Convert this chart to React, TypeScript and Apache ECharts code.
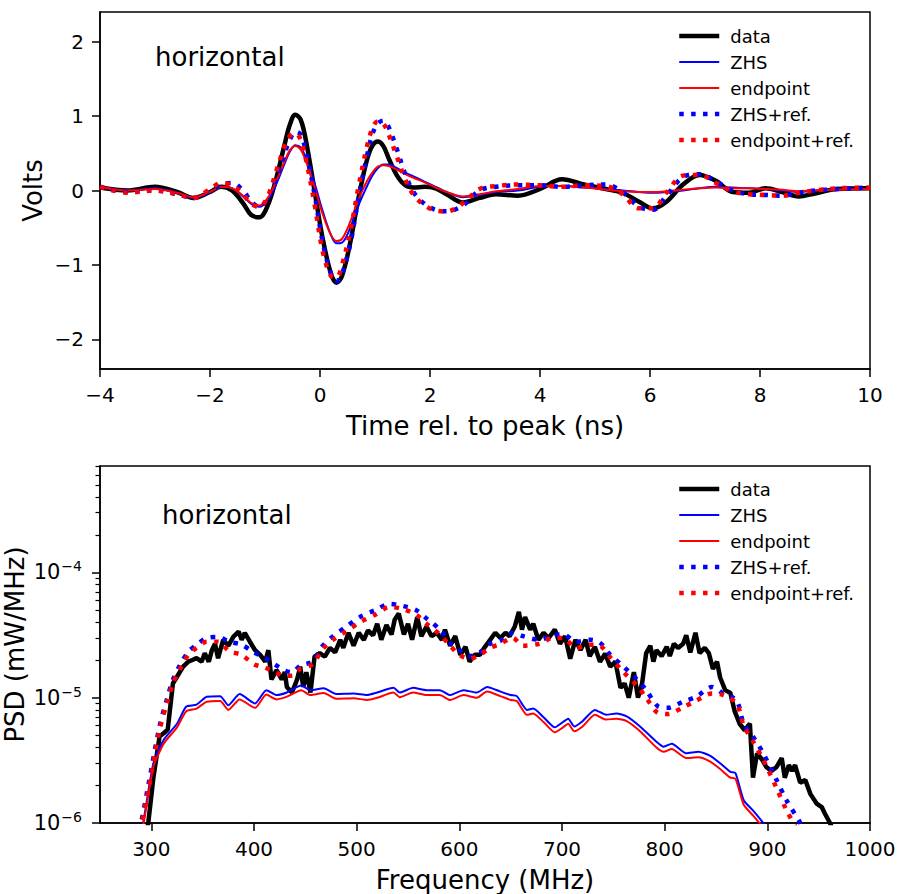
import React, { useEffect, useRef } from "react";
import * as echarts from "echarts";

const FONT = "DejaVu Sans";
const BLUE = "#0000ff";
const RED = "#ff0000";

// ---------- top panel: time domain (ns, volts) ----------
const timeNs = [
  -4, -3.5, -3, -2.6, -2.3, -2.0, -1.8, -1.6, -1.4, -1.25,
  -1.1, -0.95, -0.8, -0.65, -0.55, -0.45, -0.35, -0.25, -0.1, 0.05,
  0.2, 0.3, 0.4, 0.55, 0.7, 0.85, 0.95, 1.05, 1.15, 1.25,
  1.4, 1.55, 1.7, 1.9, 2.1, 2.3, 2.6, 2.9, 3.2, 3.6,
  4.0, 4.4, 4.8, 5.2, 5.5, 5.8, 6.05, 6.3, 6.6, 6.9,
  7.2, 7.5, 7.8, 8.1, 8.4, 8.7, 9.0, 9.4, 10,
];
const dataVolts = [
  0.04, 0.0, 0.05, -0.02, -0.1, -0.02, 0.05, 0.0, -0.17, -0.33,
  -0.36, -0.2, 0.15, 0.6, 0.88, 1.02, 0.95, 0.65, 0.0, -0.65,
  -1.12, -1.24, -1.15, -0.7, -0.1, 0.4, 0.6, 0.66, 0.6, 0.43,
  0.2, 0.07, 0.04, 0.05, 0.03, -0.05, -0.16, -0.1, -0.05, -0.07,
  0.02, 0.15, 0.08, 0.02, -0.03, -0.15, -0.24, -0.15, 0.08, 0.21,
  0.13, -0.02, -0.03, 0.03, -0.02, -0.08, -0.04, 0.02, 0.03,
];
const zhsVolts = [
  0.05, 0.0, 0.03, -0.03, -0.1, -0.02, 0.05, 0.03, -0.08, -0.18,
  -0.22, -0.13, 0.08, 0.35, 0.52, 0.61, 0.58, 0.42, 0.1, -0.28,
  -0.6, -0.71, -0.7, -0.5, -0.2, 0.05, 0.2, 0.3, 0.35, 0.35,
  0.3, 0.24, 0.19, 0.12, 0.05, -0.02, -0.09, -0.06, -0.02, 0.0,
  0.05, 0.06, 0.04, 0.02, 0.0, -0.02, -0.03, -0.02, 0.0, 0.03,
  0.05, 0.04, 0.03, 0.02, 0.0, -0.02, 0.0, 0.02, 0.02,
];
const endpointVolts = [
  0.05, 0.0, 0.02, -0.03, -0.09, -0.02, 0.05, 0.03, -0.07, -0.17,
  -0.2, -0.1, 0.12, 0.38, 0.54, 0.6, 0.55, 0.38, 0.05, -0.32,
  -0.6, -0.68, -0.65, -0.42, -0.12, 0.12, 0.24, 0.32, 0.34, 0.33,
  0.28, 0.22, 0.17, 0.11, 0.04, -0.02, -0.08, -0.05, -0.01, 0.02,
  0.06, 0.06, 0.04, 0.01, -0.01, -0.02, -0.02, -0.01, 0.01, 0.03,
  0.04, 0.03, 0.03, 0.02, 0.01, -0.01, 0.0, 0.01, 0.02,
];
const zhsRefVolts = [
  0.05, -0.02, 0.0, -0.05, -0.1, 0.0, 0.08, 0.1, 0.0, -0.15,
  -0.22, -0.1, 0.15, 0.48, 0.68, 0.79, 0.75, 0.5, -0.05, -0.7,
  -1.12, -1.22, -1.12, -0.72, -0.1, 0.45, 0.75, 0.9, 0.94, 0.85,
  0.55, 0.22, -0.02, -0.18, -0.26, -0.28, -0.2, 0.0, 0.05, 0.07,
  0.07, 0.05, 0.07, 0.08, -0.02, -0.22, -0.26, -0.07, 0.18, 0.22,
  0.12, 0.0, -0.05, -0.06, -0.07, -0.03, 0.0, 0.02, 0.04,
];
const endpointRefVolts = [
  0.05, -0.03, 0.0, -0.05, -0.1, 0.02, 0.1, 0.07, -0.05, -0.18,
  -0.22, -0.08, 0.25, 0.58, 0.73, 0.77, 0.68, 0.4, -0.18, -0.82,
  -1.15, -1.17, -1.0, -0.55, 0.05, 0.58, 0.83, 0.93, 0.9, 0.75,
  0.45, 0.15, -0.06, -0.2, -0.27, -0.28, -0.17, 0.02, 0.06, 0.08,
  0.07, 0.05, 0.07, 0.06, -0.05, -0.24, -0.24, -0.03, 0.2, 0.21,
  0.1, -0.01, -0.05, -0.06, -0.07, -0.03, 0.0, 0.03, 0.04,
];

// ---------- bottom panel: PSD (MHz, mW/MHz) ----------
const dataPsd: [number, number][] = [
  [292, 6e-7], [297, 1.0e-6], [302, 2.3e-6], [308, 4.9e-6], [312, 5.2e-6],
  [316, 5.6e-6], [321, 1.3e-5], [325, 1.47e-5], [331, 1.77e-5], [336, 1.94e-5],
  [340, 2.0e-5], [344, 2.07e-5], [349, 1.94e-5], [352, 2.27e-5], [356, 1.94e-5],
  [359, 2.4e-5], [362, 2.7e-5], [365, 2.07e-5], [370, 2.9e-5], [375, 2.6e-5],
  [380, 3.08e-5], [385, 3.37e-5], [388, 2.9e-5], [391, 3.3e-5], [396, 2.8e-5],
  [401, 2.4e-5], [406, 2.2e-5], [411, 1.94e-5], [414, 2.4e-5], [417, 1.4e-5],
  [422, 1.66e-5], [427, 1.4e-5], [430, 1.6e-5], [432, 1.22e-5], [437, 1.1e-5],
  [442, 1.4e-5], [445, 1.77e-5], [448, 1.22e-5], [451, 1.6e-5], [455, 1.1e-5],
  [459, 2.13e-5], [464, 2.27e-5], [469, 2.13e-5], [474, 2.5e-5], [479, 2.3e-5],
  [484, 2.9e-5], [487, 2.5e-5], [492, 3.3e-5], [497, 2.6e-5], [502, 3.3e-5],
  [507, 2.9e-5], [511, 3.45e-5], [516, 3.15e-5], [520, 3.9e-5], [524, 2.9e-5],
  [529, 3.8e-5], [534, 3.2e-5], [537, 4.2e-5], [541, 4.7e-5], [546, 3.2e-5],
  [550, 3.9e-5], [554, 2.9e-5], [559, 4.4e-5], [563, 3.1e-5], [568, 3.7e-5],
  [573, 3.1e-5], [578, 3.3e-5], [583, 2.9e-5], [586, 3.5e-5], [591, 2.6e-5],
  [596, 3.1e-5], [601, 2.2e-5], [606, 2.55e-5], [610, 1.94e-5], [615, 2.2e-5],
  [620, 2.2e-5], [625, 2.55e-5], [630, 2.9e-5], [635, 3.3e-5], [640, 3.0e-5],
  [645, 3.3e-5], [649, 3.1e-5], [654, 3.7e-5], [658, 4.85e-5], [661, 3.5e-5],
  [664, 4.4e-5], [669, 3.5e-5], [672, 3.9e-5], [677, 2.9e-5], [682, 3.3e-5],
  [687, 3.0e-5], [693, 3.5e-5], [698, 2.7e-5], [703, 3.1e-5], [708, 2.05e-5],
  [713, 2.9e-5], [718, 2.4e-5], [723, 2.9e-5], [727, 2.15e-5], [732, 2.55e-5],
  [737, 1.94e-5], [742, 2.25e-5], [747, 1.77e-5], [752, 1.94e-5], [757, 1.2e-5],
  [761, 1.3e-5], [765, 1.0e-5], [770, 1.6e-5], [774, 1.0e-5], [778, 1.3e-5],
  [782, 2.27e-5], [786, 2.6e-5], [789, 1.94e-5], [792, 2.4e-5], [797, 2.15e-5],
  [802, 2.55e-5], [805, 2.15e-5], [809, 2.7e-5], [813, 2.5e-5], [818, 2.7e-5],
  [821, 3.15e-5], [825, 2.3e-5], [830, 3.3e-5], [834, 2.27e-5], [839, 2.5e-5],
  [843, 2.27e-5], [847, 1.7e-5], [851, 1.94e-5], [854, 1.45e-5], [859, 1.15e-5],
  [864, 1.09e-5], [868, 7.9e-6], [873, 6.2e-6], [878, 5.5e-6], [883, 6.2e-6],
  [886, 2.3e-6], [890, 3.6e-6], [895, 3.2e-6], [899, 2.8e-6], [904, 2.6e-6],
  [909, 2.8e-6], [914, 3.3e-6], [917, 2.3e-6], [921, 2.9e-6], [924, 2.6e-6],
  [927, 2.9e-6], [932, 2.1e-6], [937, 2.2e-6], [942, 1.7e-6], [948, 1.43e-6],
  [953, 1.34e-6], [956, 1.19e-6], [961, 1.0e-6], [966, 8e-7],
];

const simFreq = [
  285, 292, 302, 312, 325, 334, 344, 354, 367, 375,
  386, 401, 412, 422, 432, 446, 455, 468, 480, 497,
  510, 520, 536, 542, 555, 568, 581, 591, 604, 617,
  627, 640, 650, 656, 666, 672, 682, 693, 701, 706,
  712, 720, 732, 743, 753, 763, 776, 792, 799, 807,
  821, 833, 844, 854, 864, 869, 877, 886, 896, 905,
];
const zhsPsd = [
  6e-7, 1.0e-6, 3.0e-6, 4.6e-6, 6.2e-6, 8.5e-6, 8.8e-6, 1.02e-5, 1.03e-5, 8.7e-6,
  1.07e-5, 9.0e-6, 1.15e-5, 1.05e-5, 1.1e-5, 1.25e-5, 1.15e-5, 1.19e-5, 1.07e-5, 1.08e-5,
  1.05e-5, 1.1e-5, 1.2e-5, 1.1e-5, 1.2e-5, 1.15e-5, 1.15e-5, 1.05e-5, 1.15e-5, 1.1e-5,
  1.22e-5, 1.12e-5, 1.05e-5, 1.03e-5, 8.0e-6, 8.2e-6, 7.0e-6, 5.8e-6, 6.4e-6, 6.8e-6,
  5.9e-6, 6.5e-6, 8.0e-6, 7.3e-6, 7.5e-6, 7.1e-6, 5.9e-6, 4.45e-6, 4.06e-6, 4.3e-6,
  3.6e-6, 3.7e-6, 3.45e-6, 3.0e-6, 2.56e-6, 2.5e-6, 1.52e-6, 1.26e-6, 1.0e-6, 8e-7,
];
const endpointPsd = [
  6e-7, 9.5e-7, 2.8e-6, 4.3e-6, 5.8e-6, 7.8e-6, 8.2e-6, 9.3e-6, 9.4e-6, 8.0e-6,
  9.7e-6, 8.3e-6, 1.06e-5, 9.7e-6, 1.02e-5, 1.15e-5, 1.05e-5, 1.09e-5, 9.8e-6, 9.9e-6,
  9.6e-6, 1.0e-5, 1.1e-5, 1.01e-5, 1.1e-5, 1.05e-5, 1.05e-5, 9.6e-6, 1.05e-5, 1.0e-5,
  1.12e-5, 1.03e-5, 9.6e-6, 9.4e-6, 7.3e-6, 7.5e-6, 6.4e-6, 5.3e-6, 5.8e-6, 6.2e-6,
  5.4e-6, 5.9e-6, 7.3e-6, 6.7e-6, 6.8e-6, 6.5e-6, 5.4e-6, 4.0e-6, 3.7e-6, 3.9e-6,
  3.3e-6, 3.35e-6, 3.1e-6, 2.7e-6, 2.3e-6, 2.25e-6, 1.4e-6, 1.15e-6, 9.2e-7, 7.3e-7,
];

const refFreq = [
  285, 290, 298, 308, 315, 321, 328, 336, 344, 354,
  365, 376, 388, 400, 410, 420, 430, 437, 445, 457,
  467, 477, 490, 503, 518, 532, 545, 558, 568, 581,
  591, 600, 610, 620, 630, 640, 652, 662, 678, 691,
  701, 714, 727, 737, 747, 760, 773, 782, 793, 803,
  818, 831, 846, 857, 870, 877, 886, 896, 909, 919,
  932, 940,
];
const zhsRefPsd = [
  7e-7, 1.0e-6, 2.2e-6, 5.9e-6, 9.6e-6, 1.39e-5, 1.83e-5, 2.33e-5, 2.64e-5, 3.0e-5,
  3.05e-5, 2.8e-5, 2.65e-5, 2.3e-5, 2.1e-5, 1.85e-5, 1.65e-5, 1.6e-5, 1.8e-5, 1.95e-5,
  2.6e-5, 3.1e-5, 3.7e-5, 4.4e-5, 5.0e-5, 5.6e-5, 5.4e-5, 5.0e-5, 4.3e-5, 3.5e-5,
  2.75e-5, 2.4e-5, 2.15e-5, 2.3e-5, 2.7e-5, 2.85e-5, 3.3e-5, 3.1e-5, 2.9e-5, 3.15e-5,
  3.2e-5, 2.8e-5, 2.9e-5, 2.75e-5, 2.2e-5, 1.77e-5, 1.4e-5, 1.15e-5, 8.6e-6, 8.3e-6,
  9.3e-6, 1.02e-5, 1.22e-5, 1.08e-5, 9.5e-6, 6.2e-6, 4.9e-6, 3.6e-6, 2.2e-6, 1.5e-6,
  1.0e-6, 7e-7,
];
const endpointRefPsd = [
  7e-7, 9.5e-7, 2.0e-6, 5.5e-6, 9.0e-6, 1.3e-5, 1.7e-5, 2.2e-5, 2.5e-5, 2.8e-5,
  2.8e-5, 2.35e-5, 2.2e-5, 1.85e-5, 1.75e-5, 1.6e-5, 1.5e-5, 1.5e-5, 1.7e-5, 1.85e-5,
  2.45e-5, 2.9e-5, 3.4e-5, 4.0e-5, 4.6e-5, 5.3e-5, 5.1e-5, 4.6e-5, 3.9e-5, 3.2e-5,
  2.6e-5, 2.2e-5, 2.05e-5, 2.2e-5, 2.5e-5, 2.7e-5, 3.0e-5, 2.6e-5, 2.7e-5, 3.0e-5,
  3.0e-5, 2.5e-5, 2.65e-5, 2.6e-5, 2.1e-5, 1.6e-5, 1.25e-5, 1.0e-5, 7.6e-6, 7.4e-6,
  8.4e-6, 9.5e-6, 1.08e-5, 1.05e-5, 9.0e-6, 6.0e-6, 4.5e-6, 3.2e-6, 1.9e-6, 1.25e-6,
  8e-7, 6e-7,
];

// ---------- axes / ticks ----------
const timeTicks = [-4, -2, 0, 2, 4, 6, 8, 10];
const voltTicks = [-2, -1, 0, 1, 2];
const freqTicks = [300, 400, 500, 600, 700, 800, 900, 1000];
const psdDecades = [-6, -5, -4];
const PSD_LOG_MIN = -6;
const PSD_LOG_MAX = -3.15;

const seriesNames = ["data", "ZHS", "endpoint", "ZHS+ref.", "endpoint+ref."];

const DOT = [4.5, 7.4];
const styles: Record<string, any> = {
  data: { color: "#000000", width: 4.5, type: "solid" },
  ZHS: { color: BLUE, width: 2, type: "solid" },
  endpoint: { color: RED, width: 2, type: "solid" },
  "ZHS+ref.": { color: BLUE, width: 4.5, type: DOT, cap: "butt" },
  "endpoint+ref.": { color: RED, width: 4.5, type: DOT, cap: "butt" },
};

const minus = (v: number) => String(v).replace("-", "\u2212");

export default function App() {
  const ref = useRef<HTMLDivElement>(null);

  useEffect(() => {
    document.body.style.margin = "0";
    const chart = echarts.init(ref.current!, null, { renderer: "svg" });

    const minorTicks: number[] = [];
    psdDecades.forEach((d) => {
      for (let k = 2; k <= 9; k++) {
        const v = d + Math.log10(k);
        if (v <= PSD_LOG_MAX) minorTicks.push(v);
      }
    });

    const axisLineStyle = { color: "#000", width: 1.5 };
    const labelBase = { fontFamily: FONT, fontSize: 20, color: "#000" };
    const nameStyle = { fontFamily: FONT, fontSize: 26, color: "#000" };

    const mkSeries = (
      name: string,
      pts: [number, number][],
      panel: number,
      smooth: number | boolean
    ) => ({
      type: "line",
      name,
      xAxisIndex: panel,
      yAxisIndex: panel,
      data: pts,
      symbol: "none",
      showSymbol: false,
      smooth,
      clip: true,
      lineStyle: { ...styles[name] },
      itemStyle: { color: styles[name].color },
      emphasis: { disabled: true },
      silent: true,
    });

    const tv = (vals: number[]) => timeNs.map((t, i) => [t, vals[i]] as [number, number]);
    const fp = (fs: number[], ps: number[]) =>
      fs.map((f, i) => [f, Math.log10(ps[i])] as [number, number]);

    const legendCommon = {
      data: seriesNames,
      orient: "vertical",
      left: 677,
      itemWidth: 40,
      itemHeight: 14,
      itemGap: 8,
      padding: 0,
      selectedMode: false,
      textStyle: { fontFamily: FONT, fontSize: 18, color: "#000", padding: [0, 0, 0, 6] },
      lineStyle: { width: "inherit" },
      itemStyle: { opacity: 0, borderWidth: 0 },
    };

    const option: any = {
      animation: false,
      backgroundColor: "#ffffff",
      textStyle: { fontFamily: FONT },
      grid: [
        { left: 100, top: 12, width: 770, height: 357, show: true, borderColor: "#000", borderWidth: 1.5, backgroundColor: "transparent", containLabel: false, outerBoundsMode: "none" },
        { left: 100, top: 466, width: 770, height: 357, show: true, borderColor: "#000", borderWidth: 1.5, backgroundColor: "transparent", containLabel: false, outerBoundsMode: "none" },
      ],
      legend: [
        { ...legendCommon, top: 27 },
        { ...legendCommon, top: 480 },
      ],
      graphic: [
        { type: "text", x: 155, y: 57, style: { text: "horizontal", fontFamily: FONT, fontSize: 26, fill: "#000", verticalAlign: "middle" } },
        { type: "text", x: 162, y: 515, style: { text: "horizontal", fontFamily: FONT, fontSize: 26, fill: "#000", verticalAlign: "middle" } },
      ],
      xAxis: [
        {
          gridIndex: 0, type: "value", min: -4, max: 10,
          axisLine: { onZero: false, lineStyle: axisLineStyle },
          axisTick: { length: 8, lineStyle: axisLineStyle, customValues: timeTicks },
          axisLabel: { ...labelBase, margin: 16, customValues: timeTicks, formatter: (v: number) => minus(v) },
          splitLine: { show: false },
          name: "Time rel. to peak (ns)", nameLocation: "middle", nameGap: 44, nameMoveOverlap: false, nameTextStyle: nameStyle,
        },
        {
          gridIndex: 1, type: "value", min: 250, max: 1000,
          axisLine: { onZero: false, lineStyle: axisLineStyle },
          axisTick: { length: 8, lineStyle: axisLineStyle, customValues: freqTicks },
          axisLabel: { ...labelBase, margin: 16, customValues: freqTicks, formatter: (v: number) => String(v) },
          splitLine: { show: false },
          name: "Frequency (MHz)", nameLocation: "middle", nameGap: 44, nameMoveOverlap: false, nameTextStyle: nameStyle,
        },
      ],
      yAxis: [
        {
          gridIndex: 0, type: "value", min: -2.4, max: 2.4,
          axisLine: { show: true, onZero: false, lineStyle: axisLineStyle },
          axisTick: { show: true, length: 8, lineStyle: axisLineStyle, customValues: voltTicks },
          axisLabel: { ...labelBase, margin: 16, customValues: voltTicks, formatter: (v: number) => minus(v) },
          splitLine: { show: false },
          name: "Volts", nameLocation: "middle", nameGap: 54, nameMoveOverlap: false, nameTextStyle: nameStyle,
        },
        {
          gridIndex: 1, type: "value", min: PSD_LOG_MIN, max: PSD_LOG_MAX,
          axisLine: { show: true, onZero: false, lineStyle: axisLineStyle },
          axisTick: { show: true, length: 8, lineStyle: axisLineStyle, customValues: psdDecades },
          axisLabel: {
            ...labelBase,
            margin: 18, customValues: psdDecades,
            formatter: (v: number) => `{b|10}{s|\u2212${Math.round(-v)}}`,
            rich: {
              b: { fontFamily: FONT, fontSize: 21, color: "#000" },
              s: { fontFamily: FONT, fontSize: 14, color: "#000", padding: [0, 0, 12, 1] },
            },
          },
          splitLine: { show: false },
          name: "PSD (mW/MHz)", nameLocation: "middle", nameGap: 72, nameMoveOverlap: false, nameTextStyle: nameStyle,
        },
        {
          gridIndex: 1, type: "value", min: PSD_LOG_MIN, max: PSD_LOG_MAX, position: "left",
          axisLine: { show: false },
          axisTick: { show: true, length: 4.5, lineStyle: { color: "#000", width: 1.2 }, customValues: minorTicks },
          axisLabel: { show: false },
          splitLine: { show: false },
        },
      ],
      series: [
        mkSeries("data", tv(dataVolts), 0, 0.35),
        mkSeries("ZHS", tv(zhsVolts), 0, 0.35),
        mkSeries("endpoint", tv(endpointVolts), 0, 0.35),
        mkSeries("ZHS+ref.", tv(zhsRefVolts), 0, 0.35),
        mkSeries("endpoint+ref.", tv(endpointRefVolts), 0, 0.35),
        mkSeries("data", dataPsd.map(([f, p]) => [f, Math.log10(p)] as [number, number]), 1, false),
        mkSeries("ZHS", fp(simFreq, zhsPsd), 1, 0.2),
        mkSeries("endpoint", fp(simFreq, endpointPsd), 1, 0.2),
        mkSeries("ZHS+ref.", fp(refFreq, zhsRefPsd), 1, 0.3),
        mkSeries("endpoint+ref.", fp(refFreq, endpointRefPsd), 1, 0.3),
      ],
    };

    chart.setOption(option);
    return () => chart.dispose();
  }, []);

  return <div ref={ref} style={{ width: 900, height: 894 }} />;
}
